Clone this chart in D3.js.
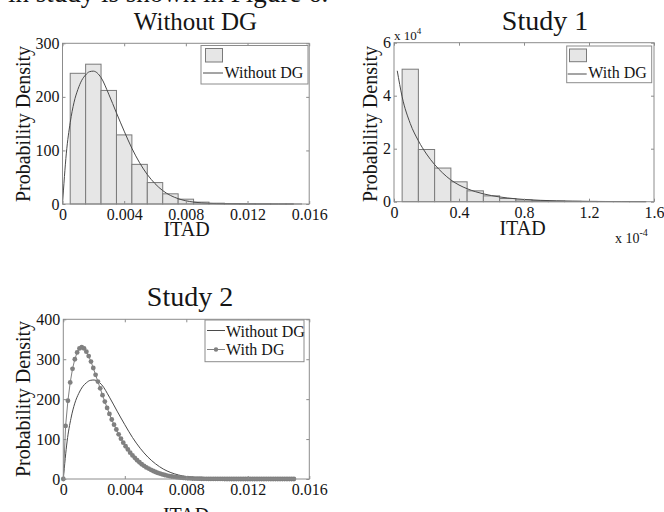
<!DOCTYPE html>
<html>
<head>
<meta charset="utf-8">
<script src="https://cdn.jsdelivr.net/npm/d3@7"></script>
<style>
  body { margin: 0; background: #fff; }
  svg { display: block; font-family: "Liberation Serif", "Times New Roman", serif; }
</style>
</head>
<body>
<svg width="664" height="512"></svg>
<script>
// ---- data ----
// Without DG histogram (bin width 0.001)
const binsWithout = [0.001, 0.002, 0.003, 0.004, 0.005, 0.006, 0.007, 0.008, 0.009, 0.010, 0.011, 0.012, 0.013, 0.014, 0.015];
const histWithout = [244, 261, 212, 129, 74, 40, 19, 9, 3.5, 1.5, 0.8, 0.4, 0.2, 0.1, 0.1];
// fitted pdf, Without DG
const pdfWithoutX = [0, 0.00025, 0.0005, 0.00075, 0.001, 0.00125, 0.0015, 0.00175, 0.002, 0.0025, 0.003, 0.0035, 0.004, 0.0045, 0.005, 0.0055, 0.006, 0.0065, 0.007, 0.0075, 0.008, 0.0085, 0.009, 0.0095, 0.010, 0.011, 0.012, 0.013, 0.014, 0.015];
const pdfWithoutY = [0, 95, 152, 190, 214, 231, 241, 247, 248, 236, 205, 170, 136, 104, 77, 55, 38, 25, 16, 10, 6, 3.6, 2.1, 1.2, 0.7, 0.22, 0.07, 0.02, 0.006, 0.002];

// Study 1 histogram (x in units of 1e-4, y in units of 1e4, bin width 0.1)
const binsStudy1 = [0.1, 0.2, 0.3, 0.4, 0.5, 0.6, 0.7, 0.8, 0.9, 1.0, 1.1, 1.2, 1.3, 1.4, 1.5];
const histStudy1 = [5.0, 1.97, 1.27, 0.75, 0.41, 0.22, 0.12, 0.065, 0.04, 0.025, 0.015, 0.01, 0.006, 0.004, 0.003];
const pdfStudy1X = [0.02, 0.05, 0.1, 0.15, 0.2, 0.25, 0.3, 0.35, 0.4, 0.45, 0.5, 0.6, 0.7, 0.8, 0.9, 1.0, 1.1, 1.2, 1.3, 1.4, 1.55];
const pdfStudy1Y = [4.94, 3.96, 2.95, 2.3, 1.8, 1.4, 1.08, 0.82, 0.63, 0.49, 0.38, 0.23, 0.14, 0.085, 0.052, 0.032, 0.02, 0.012, 0.008, 0.005, 0.002];

// Study 2, With DG pdf (dotted series)
const withDGX = [0, 0.00015, 0.0003, 0.00045, 0.0006, 0.00075, 0.0009, 0.00105, 0.0012, 0.00135,
  0.0015, 0.00165, 0.0018, 0.00195, 0.0021, 0.00225, 0.0024, 0.00255, 0.0027, 0.00285,
  0.003, 0.00315, 0.0033, 0.00345, 0.0036, 0.00375, 0.0039, 0.00405, 0.0042, 0.00435,
  0.0045, 0.00465, 0.0048, 0.00495, 0.0051, 0.00525, 0.0054, 0.00555, 0.0057, 0.00585,
  0.006, 0.00615, 0.0063, 0.00645, 0.0066, 0.00675, 0.0069, 0.00705, 0.0072, 0.00735,
  0.0075, 0.00765, 0.0078, 0.00795, 0.0081, 0.00825, 0.0084, 0.00855, 0.0087, 0.00885,
  0.009, 0.00915, 0.0093, 0.00945, 0.0096, 0.00975, 0.0099, 0.01005, 0.0102, 0.01035,
  0.0105, 0.01065, 0.0108, 0.01095, 0.0111, 0.01125, 0.0114, 0.01155, 0.0117, 0.01185,
  0.012, 0.01215, 0.0123, 0.01245, 0.0126, 0.01275, 0.0129, 0.01305, 0.0132, 0.01335,
  0.0135, 0.01365, 0.0138, 0.01395, 0.0141, 0.01425, 0.0144, 0.01455, 0.0147, 0.01485, 0.015];
const withDGY = [0, 133, 196, 242, 276, 300, 317, 327, 330, 327,
  319, 308, 294, 278, 261, 244, 227, 210, 194, 178,
  163, 149, 136, 124, 112, 101, 91, 82, 74, 66,
  59, 53, 47, 42, 37, 33, 29, 26, 23, 20,
  17.5, 15.3, 13.3, 11.5, 10, 8.6, 7.4, 6.3, 5.4, 4.6,
  3.9, 3.3, 2.8, 2.3, 1.9, 1.6, 1.3, 1.1, 0.9, 0.7,
  0.6, 0.5, 0.4, 0.3, 0.25, 0.2, 0.15, 0.12, 0.1, 0.08,
  0.06, 0.05, 0.04, 0.03, 0.03, 0.02, 0.02, 0.01, 0.01, 0.01,
  0, 0, 0, 0, 0, 0, 0, 0, 0, 0,
  0, 0, 0, 0, 0, 0, 0, 0, 0, 0, 0];

// tick labels
const itadTicks = [0, 0.004, 0.008, 0.012, 0.016];
const itadTickLabels = ["0", "0.004", "0.008", "0.012", "0.016"];
const densTicks1 = [0, 100, 200, 300];
const densTicks3 = [0, 100, 200, 300, 400];
const s1XTicks = [0, 0.4, 0.8, 1.2, 1.6];
const s1XTickLabels = ["0", "0.4", "0.8", "1.2", "1.6"];
const s1YTicks = [0, 2, 4, 6];

const svg = d3.select("svg");
const serif = "Liberation Serif, Times New Roman, serif";
const axisGray = "#8c8c8c";
const txt = "#151515";
const barFill = "#e6e6e6", barStroke = "#7a7a7a";
const curveCol = "#4a4a4a", dotCol = "#808080";

// text clipped at the top of the image
svg.append("text").attr("x", 8).attr("y", 2).attr("font-size", 27).attr("fill", txt)
  .text("in study is shown in Figure 6.");

function frame(g, x, y, xTicks, xLabels, yTicks) {
  const [x0, x1] = x.range(), [yb, yt] = y.range();
  const ax = [];
  ax.push(g.append("g").attr("transform", `translate(0,${yb})`)
    .call(d3.axisBottom(x).tickValues(xTicks).tickSize(-3).tickPadding(4.6).tickFormat((d, i) => xLabels[i])));
  ax.push(g.append("g").attr("transform", `translate(0,${yt})`)
    .call(d3.axisTop(x).tickValues(xTicks).tickSize(-3).tickFormat("")));
  ax.push(g.append("g").attr("transform", `translate(${x0},0)`)
    .call(d3.axisLeft(y).tickValues(yTicks).tickSize(-3).tickPadding(3).tickFormat(d3.format("d"))));
  ax.push(g.append("g").attr("transform", `translate(${x1},0)`)
    .call(d3.axisRight(y).tickValues(yTicks).tickSize(-3).tickFormat("")));
  ax.forEach(a => {
    a.attr("font-family", serif).attr("font-size", 16);
    a.select(".domain").remove();
    a.selectAll(".tick line").attr("stroke", axisGray);
    a.selectAll(".tick text").attr("fill", txt).attr("font-family", serif);
  });
  g.append("rect").attr("x", x0).attr("y", yt).attr("width", x1 - x0).attr("height", yb - yt)
    .attr("fill", "none").attr("stroke", axisGray);
}

function labels(g, title, tx, ty, tsize, xl, xly, yl, yly) {
  g.append("text").attr("x", tx).attr("y", ty).attr("text-anchor", "middle")
    .attr("font-size", tsize).attr("fill", txt).text(title);
  g.append("text").attr("x", xl).attr("y", xly).attr("text-anchor", "middle")
    .attr("font-size", 20).attr("fill", txt).text("ITAD");
  g.append("text").attr("transform", `translate(${yl},${yly}) rotate(-90)`).attr("text-anchor", "middle")
    .attr("font-size", 20).attr("fill", txt).text("Probability Density");
}

function bars(g, x, y, centers, values, w) {
  g.append("g").selectAll("rect").data(centers).enter().append("rect")
    .attr("x", d => x(d - w / 2))
    .attr("width", d => x(d + w / 2) - x(d - w / 2))
    .attr("y", (d, i) => y(values[i]))
    .attr("height", (d, i) => y(0) - y(values[i]))
    .attr("fill", barFill).attr("stroke", barStroke).attr("stroke-width", 1);
}

function curve(g, x, y, xs, ys, col) {
  const line = d3.line().x(d => x(d[0])).y(d => y(d[1])).curve(d3.curveMonotoneX);
  g.append("path").datum(d3.zip(xs, ys)).attr("d", line)
    .attr("fill", "none").attr("stroke", col).attr("stroke-width", 1);
}

// ---- Panel 1: Without DG ----
(function () {
  const g = svg.append("g");
  const x = d3.scaleLinear().domain([0, 0.016]).range([62.5, 309.2]);
  const y = d3.scaleLinear().domain([0, 300]).range([204, 43.3]);
  bars(g, x, y, binsWithout, histWithout, 0.001);
  curve(g, x, y, pdfWithoutX, pdfWithoutY, curveCol);
  frame(g, x, y, itadTicks, itadTickLabels, densTicks1);
  labels(g, "Without DG", 195.5, 30, 25, 186.5, 236, 29.5, 124);
  // legend
  const lg = g.append("g");
  lg.append("rect").attr("x", 201).attr("y", 45.5).attr("width", 107).attr("height", 38.5)
    .attr("fill", "#fff").attr("stroke", axisGray);
  lg.append("rect").attr("x", 205.5).attr("y", 48.5).attr("width", 17).attr("height", 13.5)
    .attr("fill", barFill).attr("stroke", barStroke);
  lg.append("line").attr("x1", 203).attr("x2", 223).attr("y1", 73).attr("y2", 73)
    .attr("stroke", curveCol);
  lg.append("text").attr("x", 224.5).attr("y", 77.5).attr("font-size", 16).attr("fill", txt).text("Without DG");
})();

// ---- Panel 2: Study 1 ----
(function () {
  const g = svg.append("g");
  const x = d3.scaleLinear().domain([0, 1.6]).range([394, 654]);
  const y = d3.scaleLinear().domain([0, 6]).range([201.7, 42.7]);
  bars(g, x, y, binsStudy1, histStudy1, 0.1);
  curve(g, x, y, pdfStudy1X, pdfStudy1Y, curveCol);
  frame(g, x, y, s1XTicks, s1XTickLabels, s1YTicks);
  labels(g, "Study 1", 545, 30, 28, 522.5, 234.5, 376.5, 124);
  const e1 = g.append("text").attr("x", 394).attr("y", 39.5).attr("font-size", 13).attr("fill", txt);
  e1.append("tspan").text("x 10");
  e1.append("tspan").attr("font-size", 9).attr("dy", -6).text("4");
  const e2 = g.append("text").attr("x", 615).attr("y", 243).attr("font-size", 14).attr("fill", txt);
  e2.append("tspan").text("x 10");
  e2.append("tspan").attr("font-size", 10).attr("dy", -7).text("-4");
  const lg = g.append("g");
  lg.append("rect").attr("x", 566.7).attr("y", 46).attr("width", 85).attr("height", 36.7)
    .attr("fill", "#fff").attr("stroke", axisGray);
  lg.append("rect").attr("x", 569.5).attr("y", 49).attr("width", 17).attr("height", 12.7)
    .attr("fill", barFill).attr("stroke", barStroke);
  lg.append("line").attr("x1", 567.7).attr("x2", 586.7).attr("y1", 74).attr("y2", 74)
    .attr("stroke", curveCol);
  lg.append("text").attr("x", 588.3).attr("y", 78).attr("font-size", 16).attr("fill", txt).text("With DG");
})();

// ---- Panel 3: Study 2 ----
(function () {
  const g = svg.append("g");
  const x = d3.scaleLinear().domain([0, 0.016]).range([63.3, 309.3]);
  const y = d3.scaleLinear().domain([0, 400]).range([479, 319.3]);
  curve(g, x, y, pdfWithoutX, pdfWithoutY, curveCol);
  const line = d3.line().x(d => x(d[0])).y(d => y(d[1]));
  g.append("path").datum(d3.zip(withDGX, withDGY)).attr("d", line)
    .attr("fill", "none").attr("stroke", dotCol).attr("stroke-width", 1);
  g.append("g").selectAll("circle").data(d3.zip(withDGX, withDGY)).enter().append("circle")
    .attr("cx", d => x(d[0])).attr("cy", d => y(d[1])).attr("r", 2.4).attr("fill", dotCol);
  frame(g, x, y, itadTicks, itadTickLabels, densTicks3);
  labels(g, "Study 2", 190, 306, 28, 186, 522, 29.5, 399);
  const lg = g.append("g");
  lg.append("rect").attr("x", 205).attr("y", 320).attr("width", 99).attr("height", 41.7)
    .attr("fill", "#fff").attr("stroke", axisGray);
  lg.append("line").attr("x1", 207).attr("x2", 225).attr("y1", 330.5).attr("y2", 330.5)
    .attr("stroke", curveCol);
  lg.append("text").attr("x", 226).attr("y", 336.5).attr("font-size", 16).attr("fill", txt).text("Without DG");
  lg.append("line").attr("x1", 207).attr("x2", 225).attr("y1", 349.5).attr("y2", 349.5)
    .attr("stroke", dotCol);
  lg.append("circle").attr("cx", 216).attr("cy", 349.5).attr("r", 2.2).attr("fill", dotCol);
  lg.append("text").attr("x", 226).attr("y", 355).attr("font-size", 16).attr("fill", txt).text("With DG");
})();
</script>
</body>
</html>
